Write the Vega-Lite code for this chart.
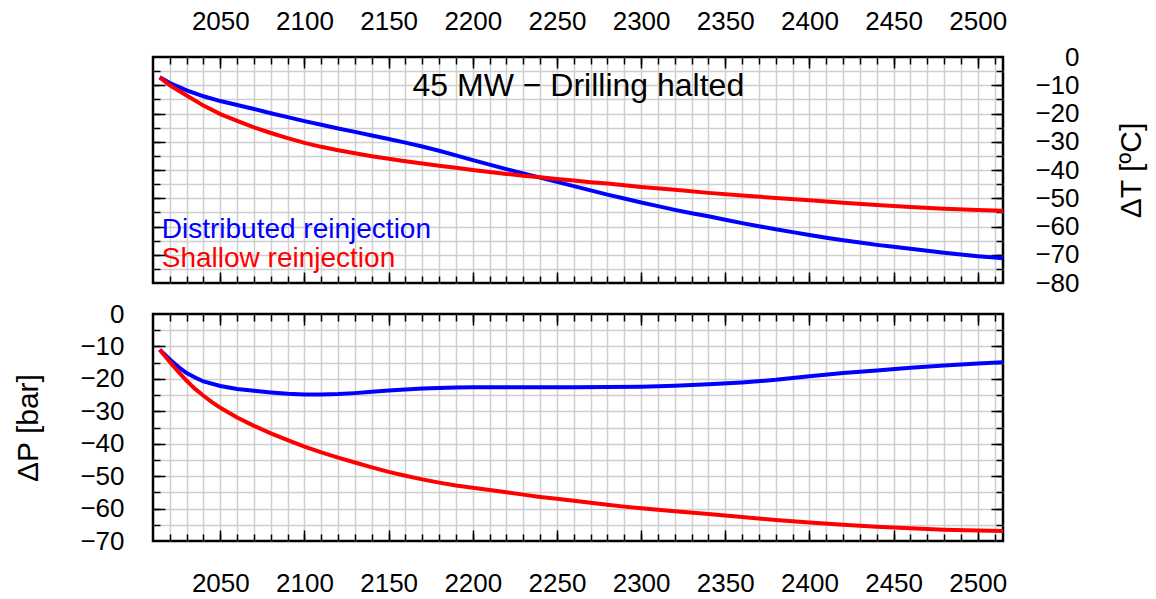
{
  "$schema": "https://vega.github.io/schema/vega-lite/v6.json",
  "background": "white",
  "padding": {"left": 12, "top": 6, "right": 5, "bottom": 5},
  "spacing": 1,
  "config": {
    "font": "Liberation Sans",
    "view": {"stroke": "black", "strokeWidth": 2.5},
    "axis": {
      "domain": false, "grid": false,
      "labelFont": "Liberation Sans", "labelFontSize": 26, "labelColor": "black",
      "titleFont": "Liberation Sans", "titleFontSize": 30, "titleFontWeight": "normal", "titleColor": "black",
      "tickColor": "black", "tickWidth": 1.5,
      "gridColor": "#cfcfcf", "gridWidth": 1.5, "gridOpacity": 1,
      "labelFlush": false, "labelOverlap": false
    }
  },
  "datasets": {
    "temp": [
      {"year": 2014, "value": -7.2, "series": "Distributed reinjection"},
      {"year": 2020, "value": -9.2, "series": "Distributed reinjection"},
      {"year": 2030, "value": -11.8, "series": "Distributed reinjection"},
      {"year": 2040, "value": -13.9, "series": "Distributed reinjection"},
      {"year": 2050, "value": -15.6, "series": "Distributed reinjection"},
      {"year": 2060, "value": -17.0, "series": "Distributed reinjection"},
      {"year": 2070, "value": -18.4, "series": "Distributed reinjection"},
      {"year": 2080, "value": -19.9, "series": "Distributed reinjection"},
      {"year": 2090, "value": -21.3, "series": "Distributed reinjection"},
      {"year": 2100, "value": -22.7, "series": "Distributed reinjection"},
      {"year": 2110, "value": -24.0, "series": "Distributed reinjection"},
      {"year": 2120, "value": -25.3, "series": "Distributed reinjection"},
      {"year": 2130, "value": -26.5, "series": "Distributed reinjection"},
      {"year": 2140, "value": -27.8, "series": "Distributed reinjection"},
      {"year": 2150, "value": -29.0, "series": "Distributed reinjection"},
      {"year": 2160, "value": -30.3, "series": "Distributed reinjection"},
      {"year": 2170, "value": -31.7, "series": "Distributed reinjection"},
      {"year": 2180, "value": -33.2, "series": "Distributed reinjection"},
      {"year": 2190, "value": -34.8, "series": "Distributed reinjection"},
      {"year": 2200, "value": -36.5, "series": "Distributed reinjection"},
      {"year": 2210, "value": -38.1, "series": "Distributed reinjection"},
      {"year": 2220, "value": -39.7, "series": "Distributed reinjection"},
      {"year": 2230, "value": -41.2, "series": "Distributed reinjection"},
      {"year": 2240, "value": -42.7, "series": "Distributed reinjection"},
      {"year": 2250, "value": -44.2, "series": "Distributed reinjection"},
      {"year": 2260, "value": -45.7, "series": "Distributed reinjection"},
      {"year": 2270, "value": -47.2, "series": "Distributed reinjection"},
      {"year": 2280, "value": -48.7, "series": "Distributed reinjection"},
      {"year": 2290, "value": -50.1, "series": "Distributed reinjection"},
      {"year": 2300, "value": -51.5, "series": "Distributed reinjection"},
      {"year": 2310, "value": -52.8, "series": "Distributed reinjection"},
      {"year": 2320, "value": -54.1, "series": "Distributed reinjection"},
      {"year": 2330, "value": -55.3, "series": "Distributed reinjection"},
      {"year": 2340, "value": -56.4, "series": "Distributed reinjection"},
      {"year": 2350, "value": -57.6, "series": "Distributed reinjection"},
      {"year": 2360, "value": -58.8, "series": "Distributed reinjection"},
      {"year": 2370, "value": -59.9, "series": "Distributed reinjection"},
      {"year": 2380, "value": -61.0, "series": "Distributed reinjection"},
      {"year": 2390, "value": -62.0, "series": "Distributed reinjection"},
      {"year": 2400, "value": -63.0, "series": "Distributed reinjection"},
      {"year": 2410, "value": -64.0, "series": "Distributed reinjection"},
      {"year": 2420, "value": -64.9, "series": "Distributed reinjection"},
      {"year": 2430, "value": -65.7, "series": "Distributed reinjection"},
      {"year": 2440, "value": -66.5, "series": "Distributed reinjection"},
      {"year": 2450, "value": -67.2, "series": "Distributed reinjection"},
      {"year": 2460, "value": -67.9, "series": "Distributed reinjection"},
      {"year": 2470, "value": -68.6, "series": "Distributed reinjection"},
      {"year": 2480, "value": -69.3, "series": "Distributed reinjection"},
      {"year": 2490, "value": -69.9, "series": "Distributed reinjection"},
      {"year": 2500, "value": -70.5, "series": "Distributed reinjection"},
      {"year": 2510, "value": -71.0, "series": "Distributed reinjection"},
      {"year": 2515, "value": -71.2, "series": "Distributed reinjection"},
      {"year": 2014, "value": -7.2, "series": "Shallow reinjection"},
      {"year": 2020, "value": -10.0, "series": "Shallow reinjection"},
      {"year": 2030, "value": -13.6, "series": "Shallow reinjection"},
      {"year": 2040, "value": -17.2, "series": "Shallow reinjection"},
      {"year": 2050, "value": -20.2, "series": "Shallow reinjection"},
      {"year": 2060, "value": -22.6, "series": "Shallow reinjection"},
      {"year": 2070, "value": -24.9, "series": "Shallow reinjection"},
      {"year": 2080, "value": -26.9, "series": "Shallow reinjection"},
      {"year": 2090, "value": -28.7, "series": "Shallow reinjection"},
      {"year": 2100, "value": -30.4, "series": "Shallow reinjection"},
      {"year": 2110, "value": -31.8, "series": "Shallow reinjection"},
      {"year": 2120, "value": -33.0, "series": "Shallow reinjection"},
      {"year": 2130, "value": -34.1, "series": "Shallow reinjection"},
      {"year": 2140, "value": -35.1, "series": "Shallow reinjection"},
      {"year": 2150, "value": -36.0, "series": "Shallow reinjection"},
      {"year": 2160, "value": -36.9, "series": "Shallow reinjection"},
      {"year": 2170, "value": -37.7, "series": "Shallow reinjection"},
      {"year": 2180, "value": -38.5, "series": "Shallow reinjection"},
      {"year": 2190, "value": -39.2, "series": "Shallow reinjection"},
      {"year": 2200, "value": -40.0, "series": "Shallow reinjection"},
      {"year": 2210, "value": -40.7, "series": "Shallow reinjection"},
      {"year": 2220, "value": -41.4, "series": "Shallow reinjection"},
      {"year": 2230, "value": -42.0, "series": "Shallow reinjection"},
      {"year": 2240, "value": -42.6, "series": "Shallow reinjection"},
      {"year": 2250, "value": -43.2, "series": "Shallow reinjection"},
      {"year": 2260, "value": -43.7, "series": "Shallow reinjection"},
      {"year": 2270, "value": -44.3, "series": "Shallow reinjection"},
      {"year": 2280, "value": -44.8, "series": "Shallow reinjection"},
      {"year": 2290, "value": -45.4, "series": "Shallow reinjection"},
      {"year": 2300, "value": -46.0, "series": "Shallow reinjection"},
      {"year": 2320, "value": -47.0, "series": "Shallow reinjection"},
      {"year": 2340, "value": -48.1, "series": "Shallow reinjection"},
      {"year": 2360, "value": -49.0, "series": "Shallow reinjection"},
      {"year": 2380, "value": -49.9, "series": "Shallow reinjection"},
      {"year": 2400, "value": -50.7, "series": "Shallow reinjection"},
      {"year": 2420, "value": -51.6, "series": "Shallow reinjection"},
      {"year": 2440, "value": -52.4, "series": "Shallow reinjection"},
      {"year": 2460, "value": -53.1, "series": "Shallow reinjection"},
      {"year": 2480, "value": -53.7, "series": "Shallow reinjection"},
      {"year": 2500, "value": -54.2, "series": "Shallow reinjection"},
      {"year": 2515, "value": -54.4, "series": "Shallow reinjection"}
    ],
    "pres": [
      {"year": 2014, "value": -11.0, "series": "Distributed reinjection"},
      {"year": 2020, "value": -14.0, "series": "Distributed reinjection"},
      {"year": 2025, "value": -16.3, "series": "Distributed reinjection"},
      {"year": 2030, "value": -18.2, "series": "Distributed reinjection"},
      {"year": 2035, "value": -19.6, "series": "Distributed reinjection"},
      {"year": 2040, "value": -20.8, "series": "Distributed reinjection"},
      {"year": 2050, "value": -22.2, "series": "Distributed reinjection"},
      {"year": 2060, "value": -23.1, "series": "Distributed reinjection"},
      {"year": 2070, "value": -23.7, "series": "Distributed reinjection"},
      {"year": 2080, "value": -24.2, "series": "Distributed reinjection"},
      {"year": 2090, "value": -24.6, "series": "Distributed reinjection"},
      {"year": 2100, "value": -24.8, "series": "Distributed reinjection"},
      {"year": 2110, "value": -24.8, "series": "Distributed reinjection"},
      {"year": 2120, "value": -24.7, "series": "Distributed reinjection"},
      {"year": 2130, "value": -24.4, "series": "Distributed reinjection"},
      {"year": 2140, "value": -24.0, "series": "Distributed reinjection"},
      {"year": 2150, "value": -23.6, "series": "Distributed reinjection"},
      {"year": 2160, "value": -23.3, "series": "Distributed reinjection"},
      {"year": 2170, "value": -23.0, "series": "Distributed reinjection"},
      {"year": 2180, "value": -22.8, "series": "Distributed reinjection"},
      {"year": 2190, "value": -22.7, "series": "Distributed reinjection"},
      {"year": 2200, "value": -22.6, "series": "Distributed reinjection"},
      {"year": 2220, "value": -22.6, "series": "Distributed reinjection"},
      {"year": 2240, "value": -22.6, "series": "Distributed reinjection"},
      {"year": 2260, "value": -22.6, "series": "Distributed reinjection"},
      {"year": 2280, "value": -22.5, "series": "Distributed reinjection"},
      {"year": 2300, "value": -22.4, "series": "Distributed reinjection"},
      {"year": 2320, "value": -22.1, "series": "Distributed reinjection"},
      {"year": 2340, "value": -21.7, "series": "Distributed reinjection"},
      {"year": 2360, "value": -21.1, "series": "Distributed reinjection"},
      {"year": 2380, "value": -20.3, "series": "Distributed reinjection"},
      {"year": 2400, "value": -19.2, "series": "Distributed reinjection"},
      {"year": 2420, "value": -18.2, "series": "Distributed reinjection"},
      {"year": 2440, "value": -17.4, "series": "Distributed reinjection"},
      {"year": 2460, "value": -16.6, "series": "Distributed reinjection"},
      {"year": 2480, "value": -15.9, "series": "Distributed reinjection"},
      {"year": 2500, "value": -15.3, "series": "Distributed reinjection"},
      {"year": 2515, "value": -14.9, "series": "Distributed reinjection"},
      {"year": 2014, "value": -11.0, "series": "Shallow reinjection"},
      {"year": 2020, "value": -14.8, "series": "Shallow reinjection"},
      {"year": 2025, "value": -17.8, "series": "Shallow reinjection"},
      {"year": 2030, "value": -20.6, "series": "Shallow reinjection"},
      {"year": 2035, "value": -23.1, "series": "Shallow reinjection"},
      {"year": 2040, "value": -25.2, "series": "Shallow reinjection"},
      {"year": 2045, "value": -27.2, "series": "Shallow reinjection"},
      {"year": 2050, "value": -28.9, "series": "Shallow reinjection"},
      {"year": 2060, "value": -31.9, "series": "Shallow reinjection"},
      {"year": 2070, "value": -34.5, "series": "Shallow reinjection"},
      {"year": 2080, "value": -36.8, "series": "Shallow reinjection"},
      {"year": 2090, "value": -38.9, "series": "Shallow reinjection"},
      {"year": 2100, "value": -40.9, "series": "Shallow reinjection"},
      {"year": 2110, "value": -42.7, "series": "Shallow reinjection"},
      {"year": 2120, "value": -44.3, "series": "Shallow reinjection"},
      {"year": 2130, "value": -45.8, "series": "Shallow reinjection"},
      {"year": 2140, "value": -47.3, "series": "Shallow reinjection"},
      {"year": 2150, "value": -48.7, "series": "Shallow reinjection"},
      {"year": 2160, "value": -49.9, "series": "Shallow reinjection"},
      {"year": 2170, "value": -51.0, "series": "Shallow reinjection"},
      {"year": 2180, "value": -52.0, "series": "Shallow reinjection"},
      {"year": 2190, "value": -52.9, "series": "Shallow reinjection"},
      {"year": 2200, "value": -53.6, "series": "Shallow reinjection"},
      {"year": 2210, "value": -54.3, "series": "Shallow reinjection"},
      {"year": 2220, "value": -55.0, "series": "Shallow reinjection"},
      {"year": 2230, "value": -55.7, "series": "Shallow reinjection"},
      {"year": 2240, "value": -56.4, "series": "Shallow reinjection"},
      {"year": 2250, "value": -57.0, "series": "Shallow reinjection"},
      {"year": 2260, "value": -57.6, "series": "Shallow reinjection"},
      {"year": 2270, "value": -58.2, "series": "Shallow reinjection"},
      {"year": 2280, "value": -58.8, "series": "Shallow reinjection"},
      {"year": 2290, "value": -59.4, "series": "Shallow reinjection"},
      {"year": 2300, "value": -59.9, "series": "Shallow reinjection"},
      {"year": 2320, "value": -60.8, "series": "Shallow reinjection"},
      {"year": 2340, "value": -61.7, "series": "Shallow reinjection"},
      {"year": 2360, "value": -62.6, "series": "Shallow reinjection"},
      {"year": 2380, "value": -63.5, "series": "Shallow reinjection"},
      {"year": 2400, "value": -64.3, "series": "Shallow reinjection"},
      {"year": 2420, "value": -65.0, "series": "Shallow reinjection"},
      {"year": 2440, "value": -65.6, "series": "Shallow reinjection"},
      {"year": 2460, "value": -66.1, "series": "Shallow reinjection"},
      {"year": 2480, "value": -66.5, "series": "Shallow reinjection"},
      {"year": 2500, "value": -66.8, "series": "Shallow reinjection"},
      {"year": 2515, "value": -66.9, "series": "Shallow reinjection"}
    ]
  },
  "resolve": {"scale": {"x": "independent", "y": "independent"}},
  "vconcat": [
    {
      "width": 850,
      "height": 226,
      "resolve": {"axis": {"x": "independent", "y": "independent"}},
      "layer": [
        {
          "data": {"name": "temp"},
          "mark": {"type": "line", "strokeWidth": 4},
          "encoding": {
            "x": {"field": "year", "type": "quantitative", "scale": {"domain": [2010, 2515], "nice": false, "zero": false},
              "axis": {"orient": "top", "values": [2050, 2100, 2150, 2200, 2250, 2300, 2350, 2400, 2450, 2500], "format": "d", "ticks": false, "labelPadding": 23, "title": null}},
            "y": {"field": "value", "type": "quantitative", "scale": {"domain": [-80, 0], "nice": false, "zero": false},
              "axis": {"orient": "right", "values": [0, -10, -20, -30, -40, -50, -60, -70, -80], "format": "d", "ticks": false, "labelAlign": "right", "labelPadding": 76, "title": "ΔT [ºC]", "titleAngle": 270, "titleBaseline": "top", "titlePadding": 37}},
            "color": {"field": "series", "type": "nominal", "scale": {"domain": ["Distributed reinjection", "Shallow reinjection"], "range": ["#0000ff", "#ff0000"]}, "legend": null}
          }
        },
        {
          "data": {"values": [{"year": 2262.7, "value": -13.9, "label": "45 MW − Drilling halted"}]},
          "mark": {"type": "text", "fontSize": 32, "align": "center", "baseline": "alphabetic", "color": "black", "font": "Liberation Sans"},
          "encoding": {
            "x": {"field": "year", "type": "quantitative", "scale": {"domain": [2010, 2515], "nice": false, "zero": false},
              "axis": {"orient": "top", "values": [2020, 2030, 2040, 2050, 2060, 2070, 2080, 2090, 2100, 2110, 2120, 2130, 2140, 2150, 2160, 2170, 2180, 2190, 2200, 2210, 2220, 2230, 2240, 2250, 2260, 2270, 2280, 2290, 2300, 2310, 2320, 2330, 2340, 2350, 2360, 2370, 2380, 2390, 2400, 2410, 2420, 2430, 2440, 2450, 2460, 2470, 2480, 2490, 2500, 2510], "labels": false, "tickSize": -7, "grid": true, "title": null}},
            "y": {"field": "value", "type": "quantitative", "scale": {"domain": [-80, 0], "nice": false, "zero": false},
              "axis": {"orient": "left", "values": [-75, -70, -65, -60, -55, -50, -45, -40, -35, -30, -25, -20, -15, -10, -5], "labels": false, "tickSize": -7, "grid": true, "title": null}},
            "text": {"field": "label"}
          }
        },
        {
          "data": {"values": [
            {"year": 2015.2, "value": -64.0, "label": "Distributed reinjection", "series": "Distributed reinjection"},
            {"year": 2015.2, "value": -74.3, "label": "Shallow reinjection", "series": "Shallow reinjection"}
          ]},
          "mark": {"type": "text", "fontSize": 28, "align": "left", "baseline": "alphabetic", "font": "Liberation Sans"},
          "encoding": {
            "x": {"field": "year", "type": "quantitative", "scale": {"domain": [2010, 2515], "nice": false, "zero": false},
              "axis": {"orient": "top", "values": [2050, 2100, 2150, 2200, 2250, 2300, 2350, 2400, 2450, 2500], "labels": false, "tickSize": -11, "title": null}},
            "y": {"field": "value", "type": "quantitative", "scale": {"domain": [-80, 0], "nice": false, "zero": false},
              "axis": {"orient": "left", "values": [-70, -60, -50, -40, -30, -20, -10], "labels": false, "tickSize": -12, "title": null}},
            "color": {"field": "series", "type": "nominal", "scale": {"domain": ["Distributed reinjection", "Shallow reinjection"], "range": ["#0000ff", "#ff0000"]}, "legend": null},
            "text": {"field": "label"}
          }
        },
        {
          "data": {"name": "temp"},
          "mark": {"type": "line", "opacity": 0},
          "encoding": {
            "x": {"field": "year", "type": "quantitative", "scale": {"domain": [2010, 2515], "nice": false, "zero": false},
              "axis": {"orient": "bottom", "values": [2020, 2030, 2040, 2050, 2060, 2070, 2080, 2090, 2100, 2110, 2120, 2130, 2140, 2150, 2160, 2170, 2180, 2190, 2200, 2210, 2220, 2230, 2240, 2250, 2260, 2270, 2280, 2290, 2300, 2310, 2320, 2330, 2340, 2350, 2360, 2370, 2380, 2390, 2400, 2410, 2420, 2430, 2440, 2450, 2460, 2470, 2480, 2490, 2500, 2510], "labels": false, "tickSize": -7, "title": null}},
            "y": {"field": "value", "type": "quantitative", "scale": {"domain": [-80, 0], "nice": false, "zero": false},
              "axis": {"orient": "right", "values": [-75, -70, -65, -60, -55, -50, -45, -40, -35, -30, -25, -20, -15, -10, -5], "labels": false, "tickSize": -7, "title": null}},
            "detail": {"field": "series"}
          }
        },
        {
          "data": {"name": "temp"},
          "mark": {"type": "line", "opacity": 0},
          "encoding": {
            "x": {"field": "year", "type": "quantitative", "scale": {"domain": [2010, 2515], "nice": false, "zero": false},
              "axis": {"orient": "bottom", "values": [2050, 2100, 2150, 2200, 2250, 2300, 2350, 2400, 2450, 2500], "labels": false, "tickSize": -11, "title": null}},
            "y": {"field": "value", "type": "quantitative", "scale": {"domain": [-80, 0], "nice": false, "zero": false},
              "axis": {"orient": "right", "values": [-70, -60, -50, -40, -30, -20, -10], "labels": false, "tickSize": -12, "title": null}},
            "detail": {"field": "series"}
          }
        }
      ]
    },
    {
      "width": 850,
      "height": 227,
      "resolve": {"axis": {"x": "independent", "y": "independent"}},
      "layer": [
        {
          "data": {"name": "pres"},
          "mark": {"type": "line", "strokeWidth": 4},
          "encoding": {
            "x": {"field": "year", "type": "quantitative", "scale": {"domain": [2010, 2515], "nice": false, "zero": false},
              "axis": {"orient": "bottom", "values": [2050, 2100, 2150, 2200, 2250, 2300, 2350, 2400, 2450, 2500], "format": "d", "ticks": false, "labelPadding": 29, "title": null}},
            "y": {"field": "value", "type": "quantitative", "scale": {"domain": [-70, 0], "nice": false, "zero": false},
              "axis": {"orient": "left", "values": [0, -10, -20, -30, -40, -50, -60, -70], "format": "d", "ticks": false, "labelPadding": 29, "title": "ΔP [bar]", "titlePadding": 36}},
            "color": {"field": "series", "type": "nominal", "scale": {"domain": ["Distributed reinjection", "Shallow reinjection"], "range": ["#0000ff", "#ff0000"]}, "legend": null}
          }
        },
        {
          "data": {"name": "pres"},
          "mark": {"type": "line", "opacity": 0},
          "encoding": {
            "x": {"field": "year", "type": "quantitative", "scale": {"domain": [2010, 2515], "nice": false, "zero": false},
              "axis": {"orient": "bottom", "values": [2020, 2030, 2040, 2050, 2060, 2070, 2080, 2090, 2100, 2110, 2120, 2130, 2140, 2150, 2160, 2170, 2180, 2190, 2200, 2210, 2220, 2230, 2240, 2250, 2260, 2270, 2280, 2290, 2300, 2310, 2320, 2330, 2340, 2350, 2360, 2370, 2380, 2390, 2400, 2410, 2420, 2430, 2440, 2450, 2460, 2470, 2480, 2490, 2500, 2510], "labels": false, "tickSize": -7, "grid": true, "title": null}},
            "y": {"field": "value", "type": "quantitative", "scale": {"domain": [-70, 0], "nice": false, "zero": false},
              "axis": {"orient": "left", "values": [-65, -60, -55, -50, -45, -40, -35, -30, -25, -20, -15, -10, -5], "labels": false, "tickSize": -7, "grid": true, "title": null}},
            "detail": {"field": "series"}
          }
        },
        {
          "data": {"name": "pres"},
          "mark": {"type": "line", "opacity": 0},
          "encoding": {
            "x": {"field": "year", "type": "quantitative", "scale": {"domain": [2010, 2515], "nice": false, "zero": false},
              "axis": {"orient": "bottom", "values": [2050, 2100, 2150, 2200, 2250, 2300, 2350, 2400, 2450, 2500], "labels": false, "tickSize": -11, "title": null}},
            "y": {"field": "value", "type": "quantitative", "scale": {"domain": [-70, 0], "nice": false, "zero": false},
              "axis": {"orient": "left", "values": [-60, -50, -40, -30, -20, -10], "labels": false, "tickSize": -12, "title": null}},
            "detail": {"field": "series"}
          }
        },
        {
          "data": {"name": "pres"},
          "mark": {"type": "line", "opacity": 0},
          "encoding": {
            "x": {"field": "year", "type": "quantitative", "scale": {"domain": [2010, 2515], "nice": false, "zero": false},
              "axis": {"orient": "top", "values": [2020, 2030, 2040, 2050, 2060, 2070, 2080, 2090, 2100, 2110, 2120, 2130, 2140, 2150, 2160, 2170, 2180, 2190, 2200, 2210, 2220, 2230, 2240, 2250, 2260, 2270, 2280, 2290, 2300, 2310, 2320, 2330, 2340, 2350, 2360, 2370, 2380, 2390, 2400, 2410, 2420, 2430, 2440, 2450, 2460, 2470, 2480, 2490, 2500, 2510], "labels": false, "tickSize": -7, "title": null}},
            "y": {"field": "value", "type": "quantitative", "scale": {"domain": [-70, 0], "nice": false, "zero": false},
              "axis": {"orient": "right", "values": [-65, -60, -55, -50, -45, -40, -35, -30, -25, -20, -15, -10, -5], "labels": false, "tickSize": -7, "title": null}},
            "detail": {"field": "series"}
          }
        },
        {
          "data": {"name": "pres"},
          "mark": {"type": "line", "opacity": 0},
          "encoding": {
            "x": {"field": "year", "type": "quantitative", "scale": {"domain": [2010, 2515], "nice": false, "zero": false},
              "axis": {"orient": "top", "values": [2050, 2100, 2150, 2200, 2250, 2300, 2350, 2400, 2450, 2500], "labels": false, "tickSize": -11, "title": null}},
            "y": {"field": "value", "type": "quantitative", "scale": {"domain": [-70, 0], "nice": false, "zero": false},
              "axis": {"orient": "right", "values": [-60, -50, -40, -30, -20, -10], "labels": false, "tickSize": -12, "title": null}},
            "detail": {"field": "series"}
          }
        }
      ]
    }
  ]
}
